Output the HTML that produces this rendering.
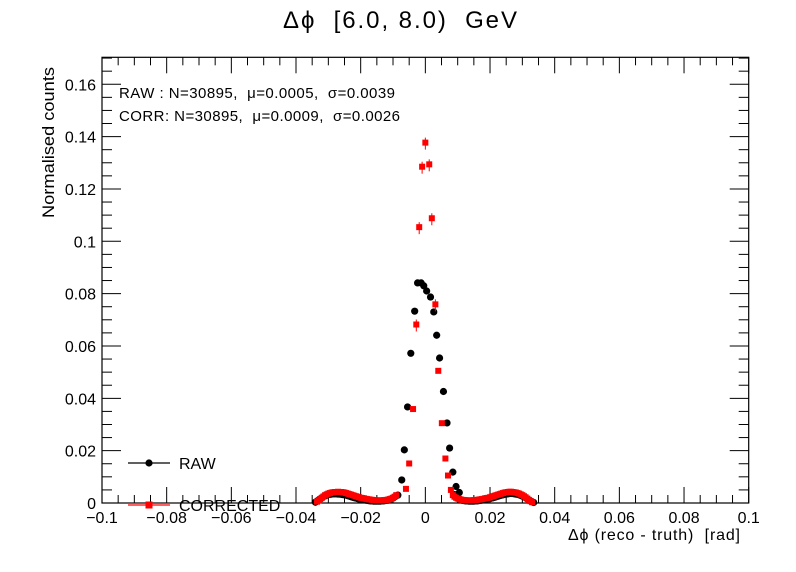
<!DOCTYPE html>
<html><head><meta charset="utf-8"><style>
body{margin:0;background:#fff}
svg{display:block;font-family:"Liberation Sans",sans-serif}
svg text{white-space:pre}
</style></head><body>
<svg id="c" width="796" height="572" viewBox="0 0 796 572">
<rect x="0" y="0" width="796" height="572" fill="#fff"/>
<text x="283" y="28" font-size="24" textLength="234" lengthAdjust="spacing">Δϕ  [6.0, 8.0)  GeV</text>
<g id="axes"></g>
<g id="marks"></g>
<text x="119" y="98" font-size="15" textLength="276" lengthAdjust="spacing">RAW : N=30895,  μ=0.0005,  σ=0.0039</text>
<text x="119" y="121" font-size="15" textLength="281" lengthAdjust="spacing">CORR: N=30895,  μ=0.0009,  σ=0.0026</text>
<g>
<line x1="128" y1="463" x2="170" y2="463" stroke="#000" stroke-width="1.3"/>
<circle cx="149" cy="463" r="3.6" fill="#000"/>
<text x="179" y="469" font-size="16">RAW</text>
<line x1="128" y1="505" x2="170" y2="505" stroke="#f00" stroke-width="1.3"/>
<rect x="145.5" y="501.5" width="7" height="7" fill="#f00"/>
<text x="179" y="511" font-size="16">CORRECTED</text>
</g>
<text x="568" y="540" font-size="16" textLength="172" lengthAdjust="spacing">Δϕ (reco - truth)  [rad]</text>
<text transform="translate(54,218) rotate(-90)" font-size="17" textLength="151" lengthAdjust="spacingAndGlyphs">Normalised counts</text>
</svg>
<script>
// ---- data ----
const rawCoreX = [-0.0085,-0.0073,-0.0065,-0.0055,-0.0045,-0.0033,-0.0024,-0.0013,-0.0005,0.0004,0.0016,0.0026,0.0035,0.0044,0.0056,0.0067,0.0075,0.0085,0.0095,0.0105];
const rawCoreY = [0.003,0.0088,0.0203,0.0367,0.0572,0.0733,0.0841,0.0841,0.083,0.081,0.0787,0.073,0.0641,0.0554,0.0426,0.0306,0.021,0.0118,0.0063,0.004];
const corrCoreX = [-0.006,-0.005,-0.0038,-0.0028,-0.0019,-0.001,0.0,0.0012,0.002,0.0031,0.004,0.0051,0.0062,0.007,0.0079];
const corrCoreY = [0.0054,0.0151,0.0359,0.0682,0.1054,0.1285,0.1377,0.1294,0.1088,0.0759,0.0505,0.0305,0.017,0.0105,0.005];
const wingStep = 0.0005;
const leftWingStart = -0.0335;
const corrLeftWing = [0.0005,0.001,0.0015,0.002,0.0025,0.003,0.0033,0.0036,0.0038,0.004,0.0041,0.0042,0.0042,0.0043,0.0042,0.0042,0.0041,0.004,0.0038,0.0036,0.0034,0.0032,0.003,0.0028,0.0026,0.0024,0.0022,0.002,0.0019,0.0018,0.0016,0.0015,0.0014,0.0013,0.0012,0.0011,0.0011,0.001,0.001,0.001,0.001,0.001,0.0011,0.0012,0.0013,0.0015,0.0017,0.002,0.0024,0.003];
const rawLeftWing = [0.0003,0.0007,0.0012,0.0016,0.002,0.0024,0.0027,0.003,0.0032,0.0033,0.0034,0.0035,0.0035,0.0035,0.0034,0.0034,0.0033,0.0032,0.0031,0.003,0.0028,0.0026,0.0024,0.0022,0.002,0.0019,0.0017,0.0015,0.0014,0.0013,0.0012,0.0011,0.001,0.0009,0.0008,0.0008,0.0007,0.0007,0.0007,0.0007,0.0007,0.0008,0.0008,0.0009,0.001,0.0011,0.0013,0.0016,0.0019,0.0023];
const rightWingStart = 0.0085;
const corrRightWing = [0.003,0.0024,0.002,0.0017,0.0015,0.0013,0.0012,0.0011,0.001,0.001,0.001,0.001,0.001,0.0011,0.0011,0.0012,0.0013,0.0014,0.0015,0.0016,0.0018,0.0019,0.002,0.0022,0.0024,0.0026,0.0028,0.003,0.0032,0.0034,0.0036,0.0038,0.004,0.0041,0.0042,0.0043,0.0043,0.0042,0.0041,0.004,0.0038,0.0036,0.0033,0.003,0.0026,0.0022,0.0017,0.0012,0.0007,0.0003];
const rawRightWing = [0.0032,0.0026,0.002,0.0015,0.0012,0.001,0.0009,0.0008,0.0008,0.0007,0.0007,0.0007,0.0007,0.0008,0.0008,0.0009,0.001,0.0011,0.0012,0.0013,0.0015,0.0016,0.0017,0.0019,0.002,0.0022,0.0024,0.0026,0.0028,0.003,0.0031,0.0033,0.0034,0.0035,0.0036,0.0036,0.0036,0.0035,0.0034,0.0033,0.0031,0.0029,0.0026,0.0023,0.002,0.0016,0.0012,0.0008,0.0005,0.0002];
const xTickVals = [-0.1,-0.08,-0.06,-0.04,-0.02,0,0.02,0.04,0.06,0.08,0.1];
const xTickLabels = ["\u22120.1","\u22120.08","\u22120.06","\u22120.04","\u22120.02","0","0.02","0.04","0.06","0.08","0.1"];
const yTickVals = [0,0.02,0.04,0.06,0.08,0.1,0.12,0.14,0.16];
const yTickLabels = ["0","0.02","0.04","0.06","0.08","0.1","0.12","0.14","0.16"];

// ---- scales ----
const L=102, R=748.7, T=57.3, B=503;
const xMin=-0.1, xMax=0.1, yMin=0, yMax=0.1703;
const X = v => L + (v - xMin) / (xMax - xMin) * (R - L);
const Y = v => B - (v - yMin) / (yMax - yMin) * (B - T);
const NS="http://www.w3.org/2000/svg";
function mk(tag, attrs, parent){const e=document.createElementNS(NS,tag);for(const k in attrs)e.setAttribute(k,attrs[k]);parent.appendChild(e);return e;}

const axes=document.getElementById('axes');
const frame=mk('rect',{x:L,y:T,width:R-L,height:B-T,fill:'none',stroke:'#000','stroke-width':1.2},axes);


for(let i=0;i<=40;i++){
  const v=xMin+i*0.005, x=X(v), len=(i%4===0)?16:8;
  mk('line',{x1:x,y1:B,x2:x,y2:B-len,stroke:'#000','stroke-width':1},axes);
  mk('line',{x1:x,y1:T,x2:x,y2:T+len,stroke:'#000','stroke-width':1},axes);
}
xTickVals.forEach((v,i)=>{
  const t=mk('text',{x:X(v),y:523,'font-size':16,'text-anchor':'middle'},axes);
  t.textContent=xTickLabels[i];
  
  
});
for(let i=0;i*0.005<=yMax;i++){
  const v=i*0.005, y=Y(v), len=(i%4===0)?19:10;
  mk('line',{x1:L,y1:y,x2:L+len,y2:y,stroke:'#000','stroke-width':1},axes);
  mk('line',{x1:R,y1:y,x2:R-len,y2:y,stroke:'#000','stroke-width':1},axes);
}
yTickVals.forEach((v,i)=>{
  const t=mk('text',{x:96,y:Y(v)+6,'font-size':16,'text-anchor':'end'},axes);
  t.textContent=yTickLabels[i];
  
  
});

const marks=document.getElementById('marks');
function wing(start, vals){return vals.map((v,i)=>[start+i*wingStep,v]);}
function core(xs,ys){return xs.map((x,i)=>[x,ys[i]]);}
const rawPts=[...wing(leftWingStart-0.0005,rawLeftWing),...core(rawCoreX,rawCoreY),...wing(rightWingStart+0.0005,rawRightWing)];
const corrPts=[...wing(leftWingStart,corrLeftWing),...core(corrCoreX,corrCoreY),...wing(rightWingStart,corrRightWing)];
rawPts.forEach(([x,y])=>{
  const c=mk('circle',{cx:X(x),cy:Y(y),r:3.6,fill:'#000'},marks);
  
  
});
corrPts.forEach(([x,y])=>{
  if(y>0.06){mk('line',{x1:X(x),y1:Y(y)-5,x2:X(x),y2:Y(y)+7,stroke:'#f00','stroke-width':1},marks);}
  const r=mk('rect',{x:X(x)-3,y:Y(y)-3,width:6,height:6,fill:'#f00'},marks);
  
  
});
</script>
</body></html>
